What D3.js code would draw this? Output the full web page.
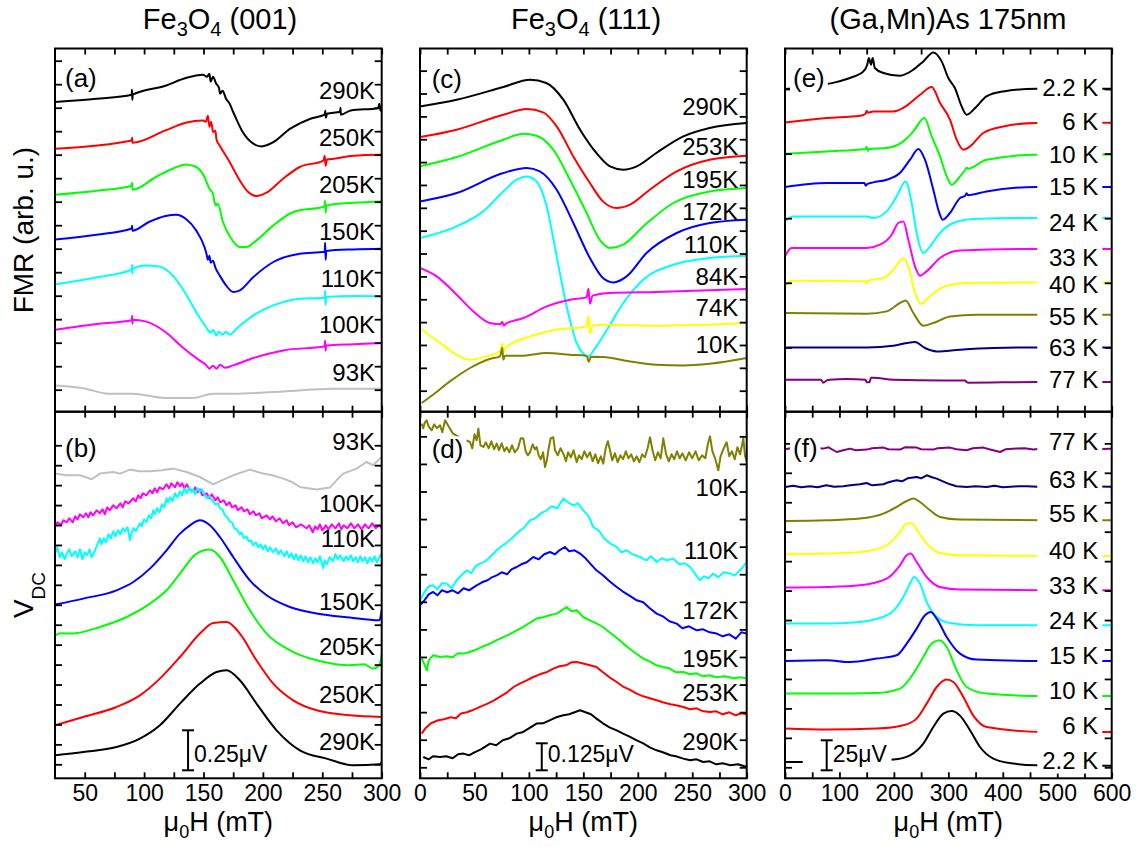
<!DOCTYPE html>
<html>
<head>
<meta charset="utf-8">
<script src="https://cdn.jsdelivr.net/npm/d3@7"></script>
<style>
  body { margin: 0; background: #fff; }
  svg text { font-family: "Liberation Sans", Arial, sans-serif; fill: #000; }
</style>
</head>
<body>
<svg id="chart" width="1136" height="847"></svg>
<script>
// ---- data: [field (mT), signal (arb. u.)] ----

// (a) Fe3O4 (001) FMR
var tempsA = ["290K", "250K", "205K", "150K", "110K", "100K", "93K"];
var a290 = [[25,309.7],[60,313],[89.6,317],[89.8,322],[90.1,312],[90.4,317],[118,326],[135,333.7],[149.5,337],[153,335],[155,338],[156,330],[158,335],[160.7,328],[163,324],[164,318],[166,321],[169,313],[172,308],[175,299.7],[183,279.7],[192,268],[199,265.3],[209,269.7],[223,283],[240,293],[252,297],[252.5,301],[253,294],[254,298],[265,300],[265.3,304],[265.6,297],[274,301.3],[297,303.5],[298,308],[299,301],[300,303.7]];
var a250 = [[25,263],[89.6,271.3],[89.9,274],[90.2,269],[118,281.3],[135,289],[149.5,291.3],[152,290],[153.7,296],[155,285],[156.5,290],[158,279.7],[160,281],[161,272],[163.6,266.3],[172,249.7],[180.5,231.3],[187.6,219.7],[194.6,215.7],[203,219],[217,233],[231,244.7],[251,251],[252,256],[252.8,246],[254,252.3],[260,253],[273.7,255.7],[299,257],[300,257]];
var a205 = [[25,217],[60,221],[89.6,226],[89.9,229],[90.2,222],[110,234.7],[124,243],[135,247.3],[143.8,244.7],[150.8,234.7],[155,223],[158,218],[159,211],[160.7,206.3],[162,208],[166.4,189.7],[173.4,173],[180.5,164.7],[186,164.7],[194.6,171.3],[208.8,186.3],[225.7,199.7],[252,205.5],[252.4,211],[252.8,199],[253.3,206.3],[276.5,209],[300,210.3]];
var a150 = [[25,172.3],[60,177],[89.6,183.2],[89.9,186],[90.2,181],[104,189.7],[118,195.7],[127,197],[135,193],[143.8,181.3],[150.8,164.7],[152.5,158],[153.7,152],[155,156],[156,149],[158,151],[160,144],[163.6,136.3],[169,126.3],[175,119.7],[180.5,121.3],[192,134.7],[208.8,149.7],[231,158],[252,160],[252.4,169],[252.8,152],[253.3,160.7],[276.5,162.3],[300,163]];
var a110 = [[25,127.3],[62,134.7],[89.6,142],[89.9,147],[90.2,138],[90.5,143],[101,146.3],[112.7,145.3],[124,136.3],[135,118],[143.8,99.7],[152,84.7],[156,79],[158,82],[160.7,76],[163,80],[166,77],[169,80],[172,77],[177.7,83],[192,96.3],[208.8,106.3],[231,113],[252,114],[252.4,121],[252.8,107],[253.3,114.7],[276.5,115.7],[300,115.3]];
var a100 = [[25,82],[62,88],[89.6,91.5],[89.9,96],[90.2,88],[90.5,92],[101,90.3],[118,79.7],[132,64.7],[146.6,51.3],[152,47],[155,43],[158,46],[161,43],[164,47],[168,44],[175,46.3],[192,53.7],[217,61.3],[252,65.5],[252.4,71],[252.8,61],[253.3,66.3],[276,67.5],[300,68.7]];
var a93 = [[25,26.3],[48,23.7],[70,18],[90,18],[118,13.7],[141,13.7],[158,18],[175,18],[217,20.3],[259.6,23],[300,23]];

// (b) Fe3O4 (001) V_DC
var tempsB = ["93K", "100K", "110K", "150K", "205K", "250K", "290K"];
var b93 = [[25,304.7],[34.8,303],[46,303],[55.8,299],[62.8,304.7],[74,306.3],[79.7,304.7],[88.1,308.7],[96,307],[104.9,307],[115,308],[124.5,309.7],[135.8,306.3],[147,301.3],[158.2,294],[166.6,298.7],[175,303],[189,308.7],[200.3,304.7],[208,303],[217.1,299.7],[225,296],[231.1,291.3],[245.2,288.7],[256.4,290.7],[262,298],[267.6,304.7],[278.8,309.7],[287.2,316.3],[292.8,313],[298.4,319.7],[300,321]];
var b100 = [[25,251.3],[27,256],[30,253],[32,258],[34.8,256],[37,260],[40,256],[42,262],[44,259],[46,264],[48.8,261],[51,265],[53,261],[55,266],[57,263],[60,268],[62.8,265],[65,269],[67,264],[69,271],[71,268],[74,273],[76.8,270],[80,275],[82,271],[84,277],[87,275],[90.9,280],[93,277],[95,283],[97,280],[99,285],[102,283],[104.9,288],[107,285],[109,290],[111,286],[113,291],[116,289],[118.9,294],[121,290],[123,295],[126,291],[128,296],[130.2,292],[132,295],[134,290],[136,294],[138,289],[141.4,287],[143,291],[145,286],[147,289],[149,283],[152.6,285],[155,280],[157,284],[160,278],[162,281],[164,276],[167,278],[169.4,273],[172,276],[174,271],[177,273],[179,268],[182,271],[184,267],[187,269],[189,264],[192,267],[194,263],[197,265],[199,260],[203.1,263],[206,259],[208,262],[211,257],[214,260],[217.1,255],[220,258],[222,253],[225,256],[228,251],[232,254],[236.7,250],[239,253],[242,246],[244,252],[246,249],[248,254],[250,248],[253,253],[255,249],[258,254],[261,250],[264,255],[266,249],[268,253],[271,250],[274,255],[277,250],[280,254],[283,249],[286,254],[289,250],[292,255],[295,250],[298,253],[300,250]];
var b110 = [[25,224.7],[27,231],[29,221],[31,226],[33,219],[34.8,224],[37,229],[39,222],[42,227],[44,221],[46,229],[48,219],[50,226],[52,223],[54,229],[55.8,221],[58,226],[60,232],[62.8,240],[64,234],[66,240],[68,236],[70,244],[72,240],[74,247],[76,242],[78,248],[80,244],[82,250],[84,247],[86,251],[88.1,238],[89,244],[91,250],[93,247],[96.5,255],[98,252],[100,259],[102,256],[104,263],[106,260],[107.7,268],[109,264],[111,270],[113,266],[115,274],[117,271],[118.9,280],[120,276],[122,281],[124,277],[126,285],[128,281],[130.2,287],[132,283],[134,290],[136,285],[138,291],[140,286],[141.4,289],[143,284],[145,290],[147,287],[149,289],[151,283],[153,280],[155,282],[158.2,277],[160,274],[162,275],[164,270],[166,269],[168,263],[170,261],[172,257],[174,256],[176,250],[178,249],[180.6,244],[182,246],[184,240],[186,242],[188,237],[190,238],[191.8,233],[194,236],[196,231],[198,234],[200,229],[202,233],[204,227],[206,231],[208.7,226],[211,230],[213,224],[215,228],[218,222],[220,227],[222,221],[224,225],[226,219],[228,224],[230,218],[232,223],[234,217],[236,222],[238,216],[240,221],[242.4,215],[244,220],[246,216],[248,222],[250.8,210],[252,218],[254,214],[256,221],[259.2,217],[261,224],[263,219],[265,223],[268,217],[270,222],[272,218],[274,223],[276,217],[278,221],[280,216],[282,222],[284,217],[286,221],[288,215],[290,221],[292,217],[294,222],[296,216],[298,221],[300,224.7]];
var b150 = [[25,173.7],[48.8,179.7],[76.8,188],[90.9,196.3],[104.9,209.7],[118.9,228],[130.2,244.7],[138.6,253],[147,258],[155.4,253],[163.8,241.3],[175,221.3],[189,198],[203.1,183],[222.7,171.3],[245.2,164.7],[273.2,160.7],[298,158],[300,168]];
var b205 = [[25,143],[30,145],[39,144.7],[62.8,151.3],[85.3,161.3],[104.9,174.7],[118.9,188],[130.2,204.7],[144.2,224.7],[155.4,228.7],[163.8,221.3],[175,198],[189,168],[203.1,144.7],[222.7,128],[245.2,118],[273.2,113],[285,114],[292.8,109.7],[298,113],[300,124]];
var b250 = [[25,53],[48.8,61.3],[76.8,71.3],[96.5,83],[113.3,99.7],[130.2,121.3],[147,144.7],[158.2,155.3],[169.4,156.3],[180.6,144.7],[194.6,118],[208.7,94.7],[225.5,78],[245.2,68],[273.2,63],[300,61.3]];
var b290 = [[25,23],[48.8,26.3],[76.8,31.3],[96.5,39.7],[113.3,53],[130.2,74.7],[147,94.7],[161,106.3],[169.4,108],[180.6,98],[194.6,74.7],[211.5,48],[231.1,28],[253.6,19.7],[276,13],[298.4,14],[300,16]];

// (c) Fe3O4 (111) FMR
var tempsC = ["290K", "253K", "195K", "172K", "110K", "84K", "74K", "10K"];
var c290 = [[0,305.3],[33.7,312],[76.5,324.7],[101,332],[116,328.7],[131.6,312],[147,282],[162,258.7],[174.5,245.3],[186.7,242],[199,245.3],[217,258.7],[241.8,275.3],[266,283.7],[300,288.7]];
var c253 = [[0,274.7],[33.7,282],[76.5,297],[98,302.7],[113,299.3],[125.5,285.3],[140.8,255.3],[156,228.7],[168,210.3],[180.6,203.7],[192.8,207],[211,222],[235.7,240.3],[266,252],[300,256]];
var c195 = [[0,245.3],[33.7,254.7],[76.5,272],[95,278],[107,276],[122.4,262],[137.7,232],[153,198.7],[165,172],[174.5,163.7],[186.7,167],[205,185.3],[232.6,208.7],[266,220.3],[300,223.7]];
var c172 = [[0,210.3],[33.7,218.7],[76.5,238.7],[98,243.7],[110,240.3],[125.5,222],[140.8,188.7],[156,153.7],[168,133.7],[177.5,129.3],[189.8,135.3],[208,158.7],[235.7,178.7],[266,188.7],[300,192]];
var c110 = [[0,173.7],[33.7,185.3],[58,200.3],[76.5,220.3],[88.8,232],[98,235.3],[107,230.3],[116.3,205.3],[125.5,155.3],[134.7,105.3],[143.9,68.7],[151,57],[154,55],[162,65.3],[174.5,87],[186.7,108.7],[205,132],[232.6,147],[266,153.7],[300,156]];
var c84 = [[0,143.7],[15.3,135.3],[33.7,117],[49,100.3],[64.3,88.7],[74,87.5],[75.5,90],[77,86],[79,88],[95,93.7],[116.3,105.3],[137.7,112],[153,114.3],[154.7,123],[156,108],[158.5,116],[162,117],[174.5,118.7],[217,119.7],[300,122.7]];
var c74 = [[0,83.7],[18.4,68.7],[33.7,57],[46,52],[61,55.3],[74,61],[75.5,68],[77,60],[78.5,64],[101,75.3],[125.5,82],[153,85.3],[154.7,96],[156,78],[158.5,86],[168,87],[217,86],[300,88.7]];
var c10 = [[1.5,8.7],[12,17],[27.5,30.3],[46,43.7],[64,52.7],[73.5,55.3],[75.5,64],[76.5,52],[78,56],[95,56],[116,58.7],[137.7,57],[153,56],[155,50],[157,55],[168,54.7],[192.8,50.3],[217,47],[241.8,46.3],[266,48],[300,53.7]];

// (d) Fe3O4 (111) V_DC
var tempsD = ["10K", "110K", "172K", "195K", "253K", "290K"];
var d10 = [[1.5,354.7],[3,350],[4.5,356],[6.1,358],[8,352],[10.7,348],[13,354],[15.5,350],[18.4,353],[20.5,346],[23,358],[30,345],[38,340],[45.9,336.3],[48,330],[50,344],[52,338],[53.6,349.7],[55.5,333],[58.2,331.3],[60.5,336],[63,330],[65.5,337],[68,329],[70.4,334.7],[72.5,328],[75,335],[77.5,327],[79.6,331],[82,326],[84.5,333],[87,326],[90,330],[92.5,340],[94.9,339.7],[97,327],[99,323],[101,326],[103.5,334],[105.5,329],[107.1,331.3],[109,323],[111,319],[113,326],[114.8,311.3],[116.5,318],[118,329],[120,340],[122.4,341],[124,328],[126.5,323],[129,330],[131.6,324.7],[134,317],[136,326],[138.5,321],[141,328],[143.9,316],[146,323],[148.5,319],[151,327],[153.5,321],[156.1,326],[158.5,317],[161,324],[163.5,315],[166,322],[168.3,314.7],[170.5,330],[172.5,337],[174.5,328],[176.5,318],[179,325],[181.5,316],[184,323],[186.5,319],[189,327],[191.5,320],[194,324],[196.5,317],[199,322],[201.5,316],[204,324],[206.5,321],[209,330],[211.2,341],[213.5,328],[216,318],[218.5,326],[221,320],[223.4,340],[226,324],[228.5,317],[231,324],[233.5,319],[236,327],[238.5,320],[241,325],[244,318],[247,326],[250,320],[253,327],[256,318],[259,323],[262,320],[264.5,335],[266.3,342],[268.5,327],[271,320],[273.9,308],[276,322],[278.5,329],[281.6,336],[284,322],[286.5,327],[289,319],[291.5,331],[294,324],[296.9,340],[298.5,322],[300,317]];
var d110 = [[0,178],[4,186],[8,192],[12,193],[16,189],[20,195],[24.5,194.7],[29,190],[33.7,198],[38,203],[43,208],[47,205],[51,212],[55,214.7],[60,217],[65,222],[70.4,228],[75,232],[80,236],[85.7,241.3],[90,246],[95,250],[101,258],[106,260],[111,265],[116.3,268],[121,272],[126,270],[131.6,279.7],[136,276],[140.8,273],[145,275],[150,268],[155,262],[159,251.3],[164,248],[169,240],[174.5,234.7],[180,232],[185,226],[189.8,228],[195,224],[202,221.3],[208,218],[212,222],[217.3,216.3],[222,220],[227,218],[232.6,219.7],[238,214],[243,215],[248,211.3],[253,204],[257,198],[261,202],[265,200],[269,204.7],[274,201],[279,206],[284.7,204.7],[289,203],[294,208],[300,216.3]];
var d172 = [[0,173],[4,178],[8,184],[12,186.3],[16,183],[20,188],[25,186],[30,188],[35,185],[40,190],[45,188],[52,193],[57,196],[62,198],[66,201],[70.4,203],[75,206],[80,204],[84,209],[88.8,211.3],[93,214],[98,216],[104,221.3],[109,219],[114,224],[119.4,226.3],[124,224],[128,228],[133,231.3],[137,227],[142,228],[147,224.7],[152,220],[157,214],[162,208],[168,203],[174,197],[180.6,191.3],[186,187],[192,183],[199,178],[205,176],[211,170],[217.3,164.7],[223,162],[229,157],[235.7,154.7],[241,150],[247,152],[254,148],[260,149],[266,146],[272.4,144.7],[278,142],[284,144],[290,139.7],[295,146],[300,144.7]];
var d195 = [[1.5,119.7],[4,114],[6.4,108],[8,118],[12,123],[18.4,121.3],[24,122],[30,121],[35,125],[39.8,124.7],[45,126],[50,128],[56,131],[64.3,134.7],[70,138],[76,141],[82,144],[88.8,148],[94,151],[100,155],[107,159.7],[113,161],[119,163],[125.5,164.7],[130,168],[134.7,171.3],[139,167],[144,168],[150,161.3],[156,158],[162,155],[168,151.3],[174,146],[180,141],[186.7,134.7],[192,130],[198,125],[205,119.7],[211,117],[217,113],[223,111.3],[229,110],[235,106],[241.8,106.3],[248,104],[254,105],[260,102],[266,103],[272,101],[280,102],[288,100],[294,101],[300,99.7]];
var d253 = [[1.5,44.7],[5,50],[10,55],[16.8,58],[22,59],[28,61],[33,60],[37.6,64.7],[43,66],[48,68],[54,71],[62,74.7],[68,78],[74,82],[80,86],[86,91.3],[92,95],[98,98],[104,101.3],[110,104],[116,106],[122.4,109.7],[128,112],[134,113],[139,116],[143.9,116.3],[149,115],[156,113],[162,111.3],[168,106],[174,101],[180.6,96.3],[186,92],[192,89],[199,84.7],[205,82],[211,80],[217.3,78],[223,76],[230,74],[235,73],[241.8,71.3],[248,69],[254,70],[260,67],[266.3,66.3],[272,67],[278,64],[284,66],[290,63],[295,65],[300,64]];
var d290 = [[3,21.3],[8,19],[12,22],[18.4,21.3],[24,22],[30,20],[35,24],[39.8,24.7],[45,23],[50,26],[56,29],[64.3,34.7],[70,33],[76,38],[82,40],[88.8,44.7],[94,46],[100,50],[107,54.7],[113,55],[119,58],[125,61],[131.6,63],[137,64],[142,66],[147,68],[152,66],[157,64],[162,59.7],[168,55],[174,51],[180.6,48],[186,45],[192,42],[199,38],[205,35],[211,31],[217.3,28],[223,26],[230,23],[235,22],[241.8,19.7],[248,18],[254,19],[260,16.3],[266,17],[272,14],[278,15],[285,13],[292,14],[300,11.3]];

// (e) (Ga,Mn)As FMR
var tempsE = ["2.2 K", "6 K", "10 K", "15 K", "24 K", "33 K", "40 K", "55 K", "63 K", "77 K"];
var e2 = [[0,322.7],[40,325],[91.8,329.3],[119,333.7],[144,340.3],[151,347],[154,353.7],[158,347],[161,353.7],[165,343.7],[180.6,338.7],[211,336],[235.7,342],[254,350.3],[272.4,359.3],[287.7,350.3],[300,333.7],[312,323.7],[324.5,305.3],[333.6,297],[352,305.3],[370,315.3],[401,320.3],[462,323],[600,323]];
var e6 = [[0,289.3],[76.5,293.7],[137.7,296],[148,298],[150,301],[153,299],[162,300.3],[199,300.3],[223.5,306],[248,317],[269.4,324.7],[284.7,308.7],[303,292],[315.3,272],[327.5,262],[339.8,265.3],[364,278.7],[401,285.3],[462,288.7],[600,289]];
var e10 = [[0,258],[76.5,260.3],[148,262.7],[150,265],[152,261],[155,262.7],[186.7,263.7],[217.3,270.3],[235.7,280.3],[256,293.7],[269.4,275.3],[284.7,255.3],[297,235.3],[306,227],[321.4,235.3],[330,241],[333.6,244],[336,243],[370,252],[462,257],[600,257.3]];
var e15 = [[0,224.7],[76.5,228.7],[146,228.7],[148,226],[151,227.5],[162,229.3],[186.7,232],[211,238.7],[229.6,252],[245,262.7],[257,252],[272.4,222],[281.6,202],[289.6,192],[303,198.7],[321.4,213.7],[331,216],[333.6,218.5],[336,216.5],[370,220.3],[462,224.7],[600,224.7]];
var e24 = [[0,190.3],[15,195.3],[76.5,195.3],[150,195.3],[162,193.7],[186.7,200.3],[205,215.3],[221.6,230.3],[232.6,208.7],[241.8,178.7],[254,158.7],[266.3,165.3],[284.7,178.7],[309,188.7],[346,192.7],[462,193.7],[600,193.7]];
var e33 = [[0,155.3],[12,163.7],[76.5,163.7],[150,163.7],[174.5,167],[196,177],[208,188.7],[217.3,190.3],[226.5,172],[238.8,145.3],[248,136],[260,140.3],[284.7,153.7],[321.4,161.3],[462,162.7],[600,162.7]];
var e40 = [[0,125.3],[12,131],[148,130.5],[150,128],[152,131],[180.6,133.7],[199,142],[217.3,153.7],[226.5,145.3],[238.8,118.7],[249,108],[266.3,115.3],[290.8,124.7],[333.6,128.7],[462,129.3],[600,129.3]];
var e55 = [[0,98.7],[150,98],[186.7,100.3],[211,108.7],[221.6,111.3],[235.7,98.7],[254,86],[272.4,88.7],[303,95.3],[352,97],[600,97]];
var e63 = [[0,64.3],[150,64.3],[199,66],[223.5,68.7],[238.8,69.7],[257,63.7],[278.6,60.3],[321.4,62],[382.7,63.7],[462,64.3],[600,64.3]];
var e77 = [[0,32],[58,32],[66,32],[70.4,29],[76,31],[82.6,32],[113,32.7],[148,32],[150,29.5],[155,29.5],[158,34],[162,34],[199,32],[290.8,31.3],[330.6,31.3],[334,29.5],[336.7,29],[462,29.7],[600,29.7]];

// (f) (Ga,Mn)As V_DC
var tempsF = ["77 K", "63 K", "55 K", "40 K", "33 K", "24 K", "15 K", "10 K", "6 K", "2.2 K"];
var f77 = [[0,329],[10,330],[20,328],[30,330],[40,329],[50,328],[60,330],[70.4,329.7],[80,331],[94.9,326.3],[107,328],[119.4,329.7],[130,328],[150,328.7],[160,330],[180.6,330.7],[190,329],[211.2,328.7],[220,331],[241.8,330.7],[250,329],[272.4,328.7],[280,330],[303,330.7],[315,329],[333.6,328],[345,330],[364.3,330.7],[375,329],[394.9,326.3],[405,329],[425.5,329.7],[440,330],[456.1,328.7],[474.5,329.7],[490,329],[520,330],[560,329],[600,329.5]];
var f63 = [[0,291.3],[15,292.5],[30,291],[45.9,292],[60,291],[76,293],[90,291.5],[107.1,292],[120,293],[137.7,294],[150,295.3],[160,293],[180.6,294],[190,296],[205,298],[215,297],[225,300],[241.8,301.3],[250,300],[260.2,303],[270,301],[278.6,299.7],[290,297],[303,294],[315,292],[333.6,291.3],[350,292],[370.4,291.3],[385,292.5],[400,291],[430,292],[443.8,292],[474.5,291.3],[500,291.5],[540,292],[600,291.5]];
var f55 = [[0,257.3],[76.5,258],[137.7,259.7],[180.6,264.7],[205,271.3],[223.5,277.3],[235.7,279.7],[247.9,276.3],[266.3,268],[284.7,261.3],[321.4,258.7],[474.5,258],[600,258]];
var f40 = [[0,224],[76.5,224.7],[137.7,226.3],[186.7,233],[211.2,246.3],[223.5,254.7],[232.6,254.7],[244.9,246.3],[260.2,234.7],[284.7,225.3],[321.4,223],[474.5,222.3],[600,222.3]];
var f33 = [[0,190.7],[76.5,191.3],[137.7,193],[186.7,199.7],[211.2,213],[223.5,223],[230.8,224.7],[241.8,216.3],[260.2,201.3],[284.7,191.3],[321.4,188.7],[474.5,188],[600,188]];
var f24 = [[0,154.7],[76.5,154.7],[137.7,156.3],[192.8,164.7],[217.3,181.3],[229.6,194.7],[236.9,201.3],[247.9,194.7],[260.2,176.3],[278.6,161.3],[303,155.3],[352,153],[474.5,153],[600,153]];
var f15 = [[0,117.3],[76.5,118],[119.4,116.3],[168.4,119.7],[205,123],[223.5,134.7],[241.8,149.7],[257.1,163],[267.5,166.3],[278.6,159.7],[296.9,141.3],[321.4,124.7],[352,118.7],[474.5,117.3],[600,117.3]];
var f10 = [[0,84.7],[76.5,84.7],[168.4,85.3],[211.2,89.7],[235.7,104.7],[254,121.3],[269.4,134.7],[283.5,138],[296.9,131.3],[315.3,108],[333.6,91.3],[370.4,84.7],[474.5,82.3],[600,82.3]];
var f6 = [[0,49.7],[76.5,48.7],[168.4,49.7],[217.3,53],[241.8,59.7],[260.2,74.7],[278.6,91.3],[296.9,98.7],[309.2,96.3],[327.5,81.3],[345.9,62.7],[370.4,51.3],[474.5,46.3],[600,46.3]];
var f2 = [[0,16.3],[45.9,16.3],[100,17],[150,17.5],[199,18.7],[229.6,23],[254,34.7],[272.4,51.3],[290.8,64.7],[306.1,67.3],[321.4,62.7],[339.8,48],[358.1,31.3],[382.6,19.7],[419.4,14.7],[462.2,13],[600,12.5]];

// label levels (arb. u.) beside each curve
var levelsA = [313, 266, 219, 172, 125, 79, 31];
var levelsB = [328, 266.3, 231.3, 168, 123, 75.3, 28];
var levelsC = [297, 257, 223.7, 192, 158.7, 127, 95.3, 58.7];
var levelsD = [282, 219.7, 159.7, 111.3, 77.3, 28];
var levelsE = [315.3, 281.3, 248.7, 217, 180.3, 145.3, 118.7, 87, 55.3, 23.7];
var levelsF = [328, 290.7, 256.3, 219.7, 184.7, 149.7, 114.7, 79.7, 44.7, 9.7];

// ---- layout ----
var svg = d3.select("#chart");

var cols = {
  left:  { x0: 55,  x1: 381.7,  dom: [25, 300], minor: d3.range(50, 301, 25), major: d3.range(50, 301, 50) },
  mid:   { x0: 420, x1: 746.7,  dom: [0, 300],  minor: d3.range(0, 301, 25),  major: d3.range(0, 301, 50) },
  right: { x0: 785, x1: 1111.7, dom: [0, 600],  minor: d3.range(0, 601, 50),  major: d3.range(0, 601, 100) }
};
var rows = { top: { y0: 48.5, y1: 411.7 }, bot: { y0: 411.7, y1: 778.3 } };

var K = "#000000", R = "#ff0000", G = "#00ff00", B = "#0000ff", C = "#00ffff",
    M = "#ff00ff", Y = "#ffff00", O = "#808000", N = "#000080", P = "#800080", GR = "#c0c0c0";

// noisy: indices of series drawn point-to-point instead of smoothed
var panels = [
  { id: "a", col: "left", row: "top", yTicks: d3.range(22, 352, 23.5), noisy: [],
    names: tempsA, levels: levelsA, series: [a290, a250, a205, a150, a110, a100, a93],
    colors: [K, R, G, B, C, M, GR], labelX: 375, tag: [10, 38] },
  { id: "b", col: "left", row: "bot", yTicks: d3.range(14, 334, 19.94), noisy: [0, 1, 2],
    names: tempsB, levels: levelsB, series: [b93, b100, b110, b150, b205, b250, b290],
    colors: [GR, M, C, B, G, R, K], labelX: 375, tag: [10, 45],
    bar: { x: 137, lo: 8, hi: 48, text: "0.25\u03bcV" } },
  { id: "c", col: "mid", row: "top", yTicks: d3.range(21, 342, 22.86), noisy: [],
    names: tempsC, levels: levelsC, series: [c290, c253, c195, c172, c110, c84, c74, c10],
    colors: [K, R, G, B, C, M, Y, O], labelX: 738.3, tag: [11.7, 39.8] },
  { id: "d", col: "mid", row: "bot", yTicks: d3.range(11, 343, 27.58), noisy: [0, 1, 2, 3, 4, 5],
    names: tempsD, levels: levelsD, series: [d10, d110, d172, d195, d253, d290],
    colors: [O, C, B, G, R, K], labelX: 738.3, tag: [11.7, 46.6], tagBg: true,
    bar: { x: 111.8, lo: 8, hi: 35, text: "0.125\u03bcV" } },
  { id: "e", col: "right", row: "top", yTicks: d3.range(64.3, 324, 64.6), noisy: [],
    names: tempsE, levels: levelsE, series: [e2, e6, e10, e15, e24, e33, e40, e55, e63, e77],
    colors: [K, R, G, B, C, M, Y, O, N, P], labelX: 1098.3, labelBg: true, tag: [8, 38.8], tagBg: true },
  { id: "f", col: "right", row: "bot", yTicks: d3.range(11, 336, 29.45), noisy: [0, 1],
    names: tempsF, levels: levelsF, series: [f77, f63, f55, f40, f33, f24, f15, f10, f6, f2],
    colors: [P, N, O, Y, M, C, B, G, R, K], labelX: 1098.3, labelBg: true, tag: [8, 45], tagBg: true,
    bar: { x: 76.6, lo: 8, hi: 38, text: "25\u03bcV", bg: true } }
];

panels.forEach(function(p) {
  var c = cols[p.col], r = rows[p.row];
  var x = d3.scaleLinear().domain(c.dom).range([c.x0, c.x1]);
  var y = d3.scaleLinear().domain([0, r.y1 - r.y0]).range([r.y1, r.y0]);
  var g = svg.append("g").attr("class", "panel-" + p.id);

  svg.append("clipPath").attr("id", "clip-" + p.id)
    .append("rect")
    .attr("x", c.x0).attr("y", r.y0)
    .attr("width", c.x1 - c.x0).attr("height", r.y1 - r.y0);

  var smooth = d3.line()
    .x(function(d) { return x(d[0]); })
    .y(function(d) { return y(d[1]); })
    .curve(d3.curveMonotoneX);
  var rough = d3.line()
    .x(function(d) { return x(d[0]); })
    .y(function(d) { return y(d[1]); });

  var curves = g.append("g").attr("clip-path", "url(#clip-" + p.id + ")");
  p.series.forEach(function(s, i) {
    var ln = p.noisy.indexOf(i) >= 0 ? rough : smooth;
    curves.append("path")
      .attr("d", ln(s))
      .attr("fill", "none")
      .attr("stroke", p.colors[i])
      .attr("stroke-width", 2)
      .attr("stroke-linejoin", "round");
  });

  // inward ticks on all four sides
  function ticks(sel) {
    sel.select(".domain").remove();
    sel.selectAll(".tick line").attr("stroke", "#000").attr("stroke-width", 1.8);
  }
  g.append("g").attr("transform", "translate(0," + r.y1 + ")")
    .call(d3.axisBottom(x).tickValues(c.minor).tickSize(-6).tickFormat("")).call(ticks);
  g.append("g").attr("transform", "translate(0," + r.y0 + ")")
    .call(d3.axisTop(x).tickValues(c.minor).tickSize(-6).tickFormat("")).call(ticks);
  g.append("g").attr("transform", "translate(" + c.x0 + ",0)")
    .call(d3.axisLeft(y).tickValues(p.yTicks).tickSize(-7).tickFormat("")).call(ticks);
  g.append("g").attr("transform", "translate(" + c.x1 + ",0)")
    .call(d3.axisRight(y).tickValues(p.yTicks).tickSize(-7).tickFormat("")).call(ticks);

  if (p.row === "bot") {
    var ax = g.append("g").attr("transform", "translate(0," + r.y1 + ")")
      .call(d3.axisBottom(x).tickValues(c.major).tickSize(0).tickPadding(6).tickFormat(d3.format("d")));
    ax.select(".domain").remove();
    ax.selectAll("text").attr("font-size", 23).attr("font-family", "Liberation Sans, Arial, sans-serif").attr("fill", "#000");
  }

  // frame
  g.append("rect")
    .attr("x", c.x0).attr("y", r.y0)
    .attr("width", c.x1 - c.x0).attr("height", r.y1 - r.y0)
    .attr("fill", "none").attr("stroke", "#000").attr("stroke-width", 2);

  // temperature labels
  var labs = g.append("g");
  p.names.forEach(function(n, i) {
    var ty = y(p.levels[i]);
    if (p.labelBg) {
      labs.append("rect").attr("x", p.labelX - 61).attr("y", ty - 19)
        .attr("width", 65).attr("height", 24).attr("fill", "#fff");
    }
    labs.append("text")
      .attr("x", p.labelX).attr("y", ty)
      .attr("text-anchor", "end").attr("font-size", 24)
      .text(n);
  });

  // panel tag
  var tg = g.append("g");
  var tt = tg.append("text")
    .attr("x", c.x0 + p.tag[0]).attr("y", r.y0 + p.tag[1])
    .attr("font-size", 26).text("(" + p.id + ")");
  if (p.tagBg) {
    var bb = tt.node().getBBox();
    tg.insert("rect", "text").attr("x", bb.x - 3).attr("y", bb.y + 2)
      .attr("width", bb.width + 6).attr("height", bb.height - 2).attr("fill", "#fff");
  }

  // scale bar
  if (p.bar) {
    var sb = g.append("g");
    var bx = x(p.bar.x), yl = y(p.bar.lo), yh = y(p.bar.hi);
    var bars = sb.append("g").attr("stroke", "#000").attr("stroke-width", 2);
    bars.append("line").attr("x1", bx).attr("x2", bx).attr("y1", yl).attr("y2", yh);
    bars.append("line").attr("x1", bx - 6).attr("x2", bx + 6).attr("y1", yl).attr("y2", yl);
    bars.append("line").attr("x1", bx - 6).attr("x2", bx + 6).attr("y1", yh).attr("y2", yh);
    sb.append("text").attr("x", bx + 6).attr("y", yl - 8)
      .attr("font-size", 23).text(p.bar.text);
    if (p.bar.bg) {
      var b2 = sb.node().getBBox();
      sb.insert("rect", "g").attr("x", b2.x - 18).attr("y", b2.y)
        .attr("width", b2.width + 22).attr("height", b2.height).attr("fill", "#fff");
    }
  }
});

// column titles
function subText(sel, parts) {
  parts.forEach(function(pt) {
    var ts = sel.append("tspan").text(pt[0]);
    if (pt[1]) ts.attr("font-size", pt[1]);
    if (pt[2]) ts.attr("dy", pt[2]);
  });
}
var titleY = 29;
subText(svg.append("text").attr("x", 220).attr("y", titleY).attr("text-anchor", "middle").attr("font-size", 29),
  [["Fe"], ["3", 20, 7], ["O", null, -7], ["4", 20, 7], [" (001)", null, -7]]);
subText(svg.append("text").attr("x", 586).attr("y", titleY).attr("text-anchor", "middle").attr("font-size", 29),
  [["Fe"], ["3", 20, 7], ["O", null, -7], ["4", 20, 7], [" (111)", null, -7]]);
svg.append("text").attr("x", 948).attr("y", titleY).attr("text-anchor", "middle").attr("font-size", 29)
  .text("(Ga,Mn)As 175nm");

// x axis titles
[cols.left, cols.mid, cols.right].forEach(function(c) {
  subText(svg.append("text").attr("x", (c.x0 + c.x1) / 2).attr("y", 831).attr("text-anchor", "middle").attr("font-size", 27),
    [["\u03bc"], ["0", 18, 7], ["H (mT)", null, -7]]);
});

// y axis titles
svg.append("text")
  .attr("transform", "translate(33," + (rows.top.y0 + rows.top.y1) / 2 + ") rotate(-90)")
  .attr("text-anchor", "middle").attr("font-size", 28)
  .text("FMR (arb. u.)");
subText(svg.append("text")
  .attr("transform", "translate(33," + (rows.bot.y0 + rows.bot.y1) / 2 + ") rotate(-90)")
  .attr("text-anchor", "middle").attr("font-size", 28),
  [["V"], ["DC", 19, 12]]);
</script>
</body>
</html>
